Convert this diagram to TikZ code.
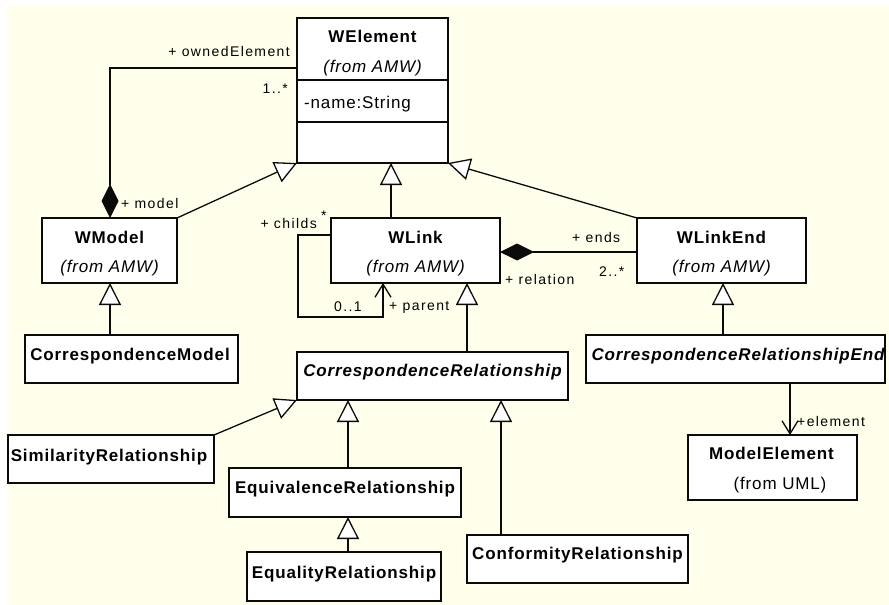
\documentclass[tikz,border=0pt]{standalone}
\usepackage{fontspec}
\setmainfont{Liberation Sans}[LetterSpace=5]
\newfontfamily\lblfont{Liberation Sans}[LetterSpace=10]
\usetikzlibrary{arrows.meta,calc}
\definecolor{paper}{RGB}{255,255,236}
\definecolor{ink}{RGB}{10,10,10}
\begin{document}
\begin{tikzpicture}[x=1pt,y=-1pt,
  classbox/.style={draw=ink, line width=1.4pt, fill=white, inner sep=0pt, outer sep=0pt},
  title/.style={font=\fontsize{17}{20}\selectfont\bfseries, inner sep=0pt, anchor=base},
  ititle/.style={font=\fontsize{17}{20}\selectfont\bfseries\itshape, inner sep=0pt, anchor=base},
  pkg/.style={font=\fontsize{17}{20}\selectfont\itshape, inner sep=0pt, anchor=base},
  attr/.style={font=\fontsize{17}{20}\selectfont, inner sep=0pt, anchor=base west},
  role/.style={font=\lblfont\fontsize{14}{16}\selectfont, inner sep=0pt},
  link/.style={draw=ink, line width=1.3pt},
  gen/.style={link, -{Triangle[length=22pt,width=22pt,fill=white]}},
  compo/.style={link, {Diamond[length=34pt,width=17pt,fill=ink]}-},
  navi/.style={link, -{Straight Barb[length=13pt,width=16pt]}}
]
\useasboundingbox (0,0) rectangle (889,605);
\fill[white] (0,0) rectangle (889,605);
\fill[paper] (8,6) rectangle (889,605);

% ---------- classes ----------
\node[classbox, minimum width=151pt, minimum height=145pt] (welement) at (372.5,90.5) {};
\draw[ink, line width=1.4pt] ($(welement.north west)+(0,62)$) -- ($(welement.north east)+(0,62)$);
\draw[ink, line width=1.4pt] ($(welement.north west)+(0,104)$) -- ($(welement.north east)+(0,104)$);
\node[title] (welementT) at (372.5,42) {WElement};
\node[pkg] (welementP) at (372.5,72) {(from AMW)};
\node[attr] (welementA) at (304,108) {-name:String};

\node[classbox, minimum width=135pt, minimum height=65pt] (wmodel) at (109.5,250.5) {};
\node[title] (wmodelT) at (109.5,243) {WModel};
\node[pkg] (wmodelP) at (109.5,272) {(from AMW)};

\node[classbox, minimum width=213pt, minimum height=48pt] (cmodel) at (131.5,359) {};
\node[title] (cmodelT) at (130,360) {CorrespondenceModel};

\node[classbox, minimum width=169pt, minimum height=65pt] (wlink) at (415.5,250.5) {};
\node[title] (wlinkT) at (415.5,243) {WLink};
\node[pkg] (wlinkP) at (415.5,272) {(from AMW)};

\node[classbox, minimum width=169pt, minimum height=65pt] (wlinkend) at (721.5,250.5) {};
\node[title] (wlinkendT) at (721.5,243) {WLinkEnd};
\node[pkg] (wlinkendP) at (721.5,272) {(from AMW)};

\node[classbox, minimum width=299pt, minimum height=48pt] (cre) at (735.5,359) {};
\node[ititle] (creT) at (738,360) {CorrespondenceRelationshipEnd};

\node[classbox, minimum width=169pt, minimum height=65pt] (modelel) at (772.5,467.5) {};
\node[title] (modelelT) at (771.5,459) {ModelElement};
\node[font=\fontsize{17}{20}\selectfont, inner sep=0pt, anchor=base] (modelelP) at (780,489) {(from UML)};

\node[classbox, minimum width=271pt, minimum height=48pt] (cr) at (432.5,376) {};
\node[ititle] (crT) at (432.5,376) {CorrespondenceRelationship};

\node[classbox, minimum width=206pt, minimum height=48pt] (sim) at (111,459) {};
\node[title] (simT) at (109,461) {SimilarityRelationship};

\node[classbox, minimum width=232pt, minimum height=49pt] (equiv) at (345,492.5) {};
\node[title] (equivT) at (345,493) {EquivalenceRelationship};

\node[classbox, minimum width=194pt, minimum height=49pt] (equal) at (344,576.5) {};
\node[title] (equalT) at (344,578) {EqualityRelationship};

\node[classbox, minimum width=221pt, minimum height=48pt] (conf) at (577.5,559) {};
\node[title] (confT) at (577.5,559) {ConformityRelationship};

% ---------- routing points ----------
\coordinate (own) at (110,68);
\coordinate (gLink) at (391,0);
\coordinate (selfA) at (298,235);
\coordinate (selfB) at (383,317);
\coordinate (gCR) at (467,0);
\coordinate (nav) at (790,0);
\coordinate (gEq) at (348,0);
\coordinate (gConf) at (501,0);
\coordinate (gEnd) at (723,0);
\coordinate (comp) at (0,252);

% ---------- connectors ----------
\draw[compo] (wmodel.north -| own) |- (welement.west |- own);
\draw[gen] (wmodel.north east) -- (welement.south west);
\draw[gen] (cmodel.north -| own) -- (wmodel.south -| own);
\draw[gen] (wlink.north -| gLink) -- (welement.south -| gLink);
\draw[navi] (wlink.west |- selfA) -- (selfA) |- (selfB) -- (wlink.south -| selfB);
\draw[compo] (wlink.east |- comp) -- (wlinkend.west |- comp);
\draw[gen] (wlinkend.north west) -- (welement.south east);
\draw[gen] (cr.north -| gCR) -- (wlink.south -| gCR);
\draw[gen] (cre.north -| gEnd) -- (wlinkend.south -| gEnd);
\draw[navi] (cre.south -| nav) -- (modelel.north -| nav);
\draw[gen] (sim.north east) -- (cr.south west);
\draw[gen] (equiv.north -| gEq) -- (cr.south -| gEq);
\draw[gen] (equal.north -| gEq) -- (equiv.south -| gEq);
\draw[gen] (conf.north -| gConf) -- (cr.south -| gConf);

% ---------- role names and multiplicities ----------
\node[role, anchor=base east] (rOwned) at (290,56) {+ ownedElement};
\node[role, anchor=base east] (mOwned) at (288,93) {1..*};
\node[role, anchor=base west] (rModel) at (121,208) {+ model};
\node[role, anchor=base east] (rChilds) at (317,228) {+ childs};
\node[role, anchor=base west] (mChilds) at (321,220) {*};
\node[role, anchor=base west] (mParent) at (334,311) {0..1};
\node[role, anchor=base west] (rParent) at (389,310) {+ parent};
\node[role, anchor=base west] (rEnds) at (572,242) {+ ends};
\node[role, anchor=base west] (mEnds) at (599,276) {2..*};
\node[role, anchor=base west] (rRelation) at (505,284) {+ relation};
\node[role, anchor=base west] (rElement) at (797,426) {+element};
\end{tikzpicture}
\end{document}
